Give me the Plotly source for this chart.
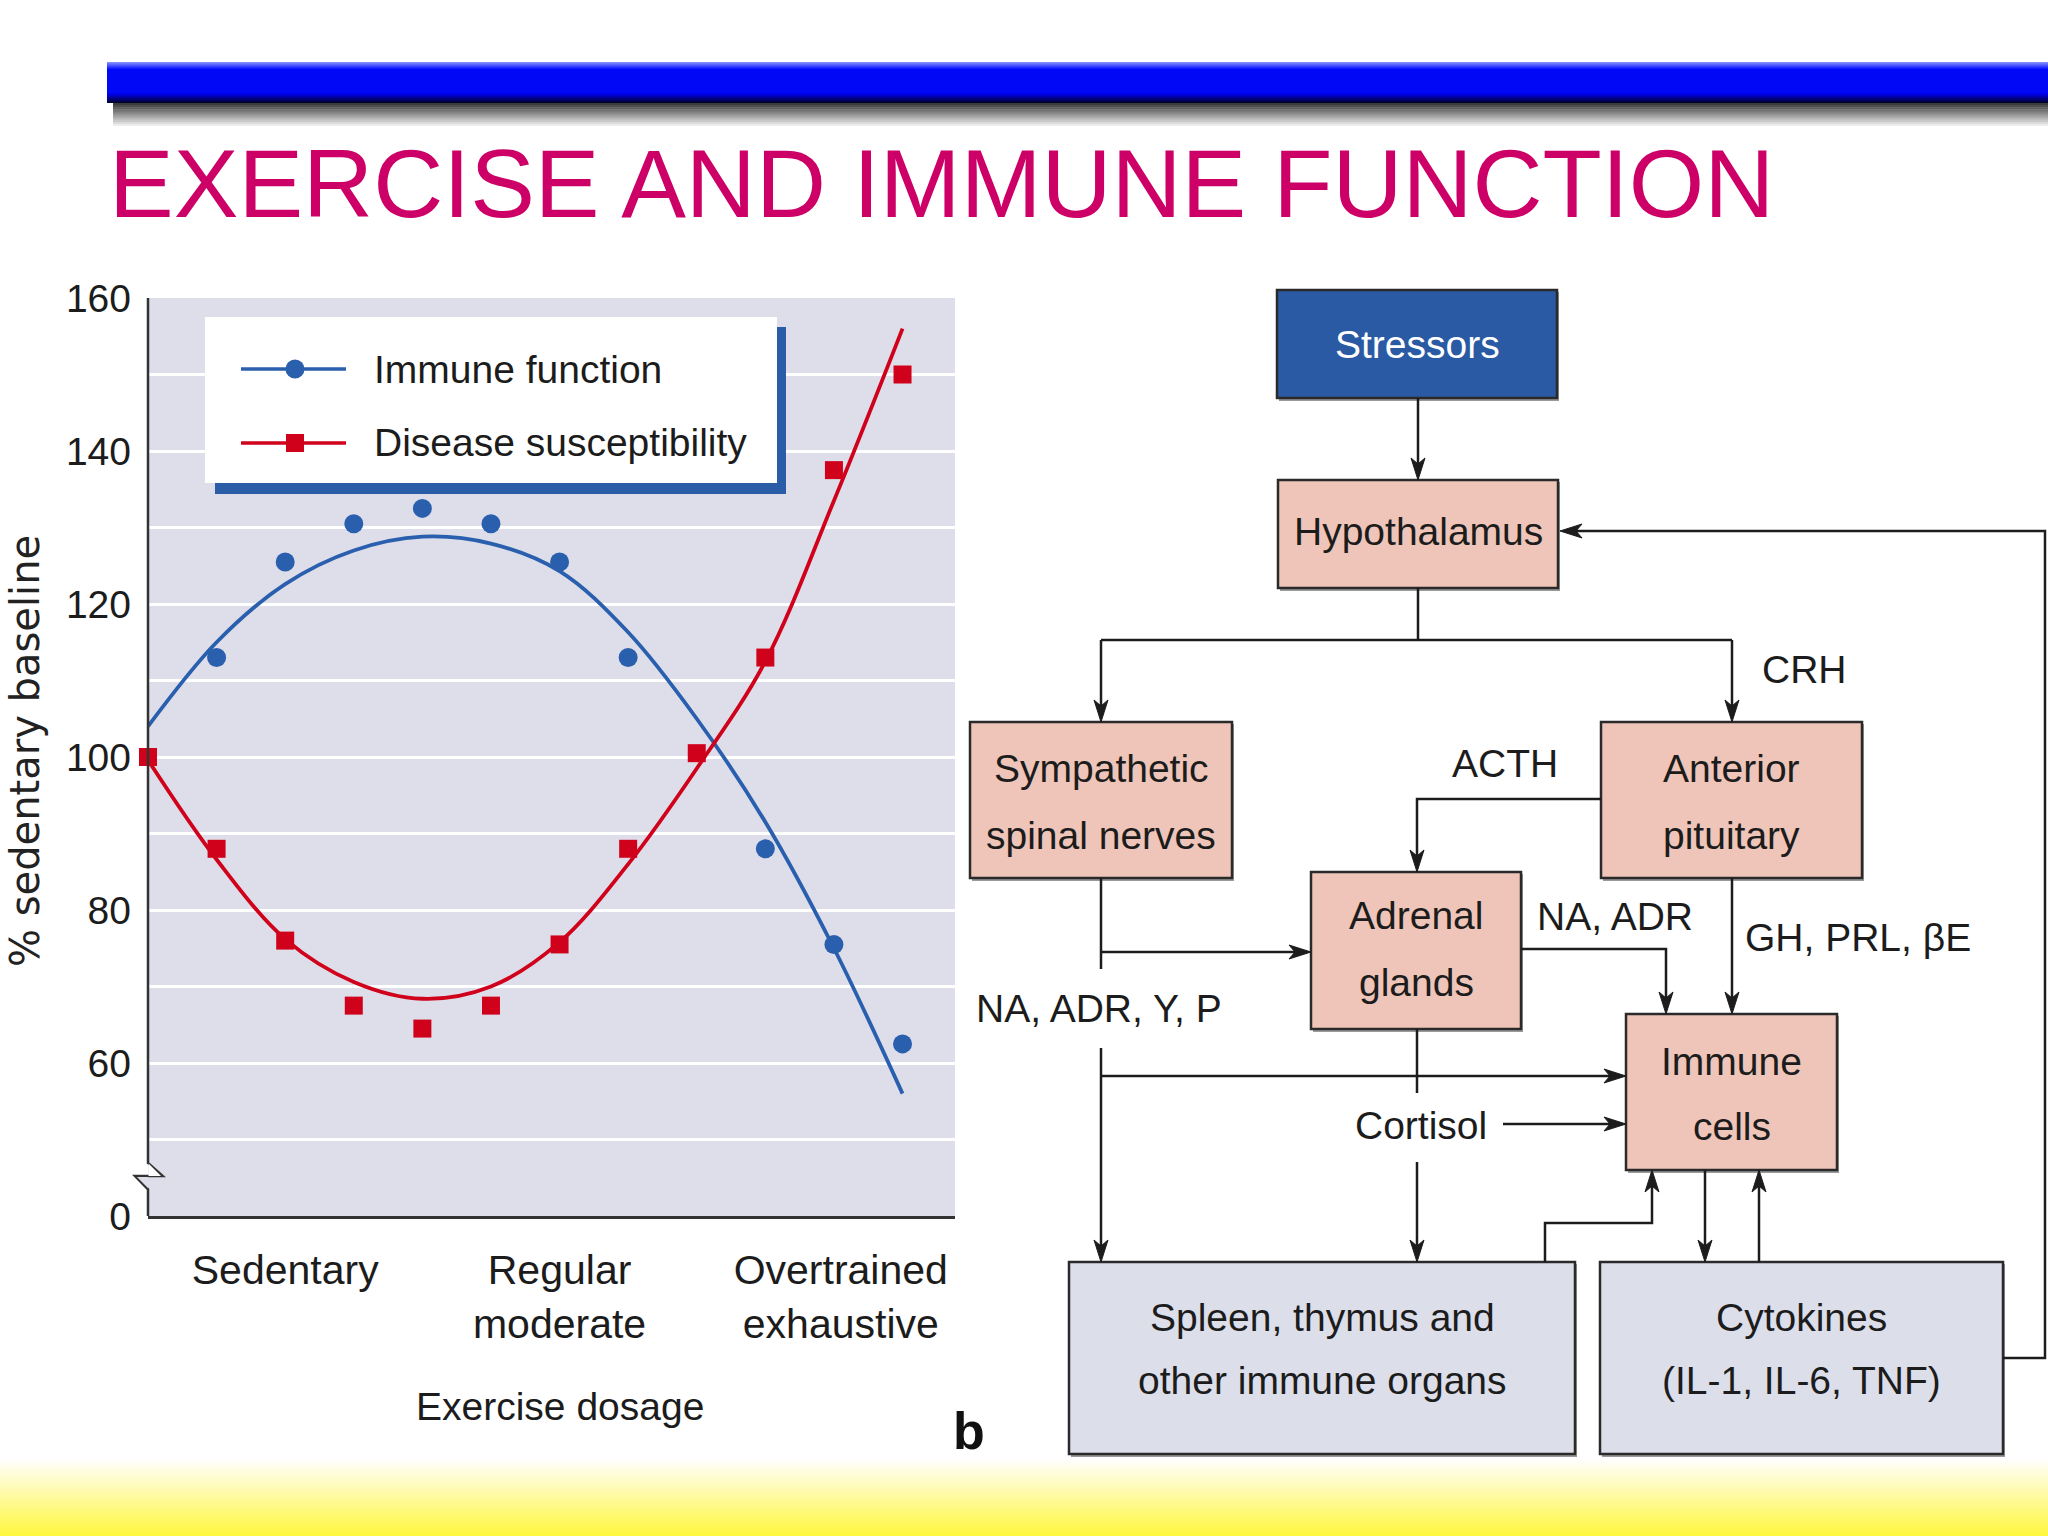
import plotly.graph_objects as go

W, H = 2048, 1536

# ---------------- data ----------------
immune_x = [1, 2, 3, 4, 5, 6, 7, 9, 10, 11]
immune_pct = [113, 125.5, 130.5, 132.5, 130.5, 125.5, 113, 88, 75.5, 62.5]
disease_x = [0, 1, 2, 3, 4, 5, 6, 7, 8, 9, 10, 11]
disease_pct = [100, 88, 76, 67.5, 64.5, 67.5, 75.5, 88, 100.5, 113, 137.5, 150]
fit_x = [0, 1, 2, 3, 4, 5, 6, 7, 8, 9, 10, 11]
immune_fit = [104, 115, 122.6, 127, 128.8, 127.9, 124.3, 116.3, 105, 91.5, 75, 56]
disease_fit = [99.6, 86.6, 76.2, 70.6, 68.4, 70.0, 75.8, 86.0, 98.5, 112.5, 133.5, 156]
x_tick_pos = [2, 6, 10.1]
x_tick_labels = ["Sedentary", "Regular<br>moderate", "Overtrained<br>exhaustive"]
y_tick_vals = [40, 50, 60, 70, 80, 90, 100, 110, 120, 130, 140, 150, 160]
y_tick_text = ["0", "", "60", "", "80", "", "100", "", "120", "", "140", "", "160"]
legend_labels = ["Immune function", "Disease susceptibility"]

node_labels = {
    "stress": ["Stressors"],
    "hypo": ["Hypothalamus"],
    "symp": ["Sympathetic", "spinal nerves"],
    "ant": ["Anterior", "pituitary"],
    "adr": ["Adrenal", "glands"],
    "imm": ["Immune", "cells"],
    "spleen": ["Spleen, thymus and", "other immune organs"],
    "cyto": ["Cytokines", "(IL-1, IL-6, TNF)"],
}
edge_labels = {
    "crh": "CRH", "acth": "ACTH", "naadr": "NA, ADR",
    "gh": "GH, PRL, βE", "nay": "NA, ADR, Y, P", "cort": "Cortisol",
}

# ---------------- styles ----------------
SANS = "Liberation Sans, Arial, sans-serif"
FS = 39
BLUE = "#2a5fae"
RED = "#d0021b"
LAV = "#dedeea"
SALMON = "#eec5b8"
GREYBOX = "#dcdeea"
INK = "#1c1c1c"

def px(x):
    return x / W

def py(y):
    return 1 - y / H

shapes = []
annos = []

def rect(x0, y0, x1, y1, fill, line=None, lw=0):
    shapes.append(dict(type="rect", xref="paper", yref="paper",
                       x0=px(x0), x1=px(x1), y0=py(y1), y1=py(y0),
                       fillcolor=fill, line=dict(color=line or fill, width=lw),
                       layer="above"))

def poly(points, color=INK, width=2.5, fill=None, close=False):
    d = "M" + " L".join(f"{px(a):.6f},{py(b):.6f}" for a, b in points)
    if close:
        d += " Z"
    s = dict(type="path", xref="paper", yref="paper", path=d,
             line=dict(color=color, width=width), layer="above")
    if fill:
        s["fillcolor"] = fill
    shapes.append(s)

def head(tip, direction, L=22, w=7, n=6):
    ux, uy = {"down": (0, 1), "up": (0, -1), "left": (-1, 0), "right": (1, 0)}[direction]
    pxv, pyv = -uy, ux
    tx, ty = tip
    bx, by = tx - ux * L, ty - uy * L
    nx, ny = tx - ux * (L - n), ty - uy * (L - n)
    poly([(tx, ty), (bx + pxv * w, by + pyv * w), (nx, ny), (bx - pxv * w, by - pyv * w)],
         color=INK, width=1, fill=INK, close=True)
    return (nx, ny)

def arrow(points, direction):
    tip = points[-1]
    notch = head(tip, direction)
    poly(points[:-1] + [notch])

def text(x, y, s, size=FS, color=INK, family=SANS, xanchor="center", angle=0, bold=False):
    annos.append(dict(xref="paper", yref="paper", x=px(x), y=py(y), text=s,
                      showarrow=False, xanchor=xanchor, yanchor="middle",
                      textangle=angle,
                      font=dict(size=size, color=color, family=family,
                                weight="bold" if bold else "normal")))

# ---------------- header decoration ----------------
steps = 12
for i in range(steps):
    t = i / (steps - 1)
    g = int(60 + (255 - 60) * t)
    rect(113, 103 + i * 2.1, W, 103 + (i + 1) * 2.1 + 0.5, f"rgb({g},{g},{g})")
rect(107, 62, W, 103, "#0008f6")
for i in range(8):
    t = i / 7
    r = int(128 - 128 * t); gg = int(140 - 132 * t)
    rect(107, 62 + i, W, 63 + i, f"rgb({r},{gg},255)")
for i in range(10):
    t = i / 9
    b = int(246 - 200 * t)
    rect(107, 93 + i, W, 94 + i, f"rgb(0,0,{b})")

text(107, 184, "EXERCISE AND IMMUNE FUNCTION", size=97, color="#cc0066", xanchor="left")

# bottom yellow gradient
n = 40
for i in range(n):
    t = i / (n - 1)
    g = int(255 - 8 * t); b = int(255 - 197 * t)
    rect(0, 1458 + i * 2, W, 1458 + (i + 1) * 2 + 0.6, f"rgb(255,{g},{b})")

# ---------------- chart ----------------
fig = go.Figure()
fig.add_trace(go.Scatter(x=fit_x, y=immune_fit, mode="lines", line=dict(color=BLUE, width=3.8, shape="spline"),
                         showlegend=False, hoverinfo="skip"))
fig.add_trace(go.Scatter(x=fit_x, y=disease_fit, mode="lines", line=dict(color=RED, width=3.8, shape="spline"),
                         showlegend=False, hoverinfo="skip"))
fig.add_trace(go.Scatter(x=immune_x, y=immune_pct, mode="markers", name=legend_labels[0],
                         marker=dict(symbol="circle", size=19, color=BLUE), cliponaxis=False, showlegend=False))
fig.add_trace(go.Scatter(x=disease_x, y=disease_pct, mode="markers", name=legend_labels[1],
                         marker=dict(symbol="square", size=18, color=RED), cliponaxis=False, showlegend=False))

# y axis line with break
poly([(148, 298), (148, 1163), (162.7, 1176), (135, 1176), (148, 1189.3), (148, 1216)], color="#333333", width=2.5)
poly([(148.5, 1163.5), (161, 1176), (148.5, 1176)], color="white", width=0, fill="white", close=True)
poly([(148, 1177), (137, 1177), (148, 1188)], color=LAV, width=0, fill=LAV, close=True)

# legend (custom)
rect(215, 327, 786, 494, "#2b5ca8")
rect(205, 317, 777, 483, "white")
poly([(241, 369), (346, 369)], color=BLUE, width=3.5)
shapes.append(dict(type="circle", xref="paper", yref="paper", x0=px(285.5), x1=px(304.5),
                   y0=py(378.5), y1=py(359.5), fillcolor=BLUE, line=dict(color=BLUE, width=0), layer="above"))
poly([(241, 443), (346, 443)], color=RED, width=3.5)
rect(286, 434, 304, 452, RED)
text(372, 369, legend_labels[0], xanchor="left")
text(372, 443, legend_labels[1], xanchor="left")

text(25, 751, "% sedentary baseline", size=40, family="DejaVu Sans, sans-serif", angle=-90, color="#222")
text(560, 1406, "Exercise dosage")
text(969, 1431, "b", size=52, bold=True, color="#111")

# ---------------- flowchart ----------------
boxes = {
    "stress": (1277, 290, 1557, 398, "#2a5aa3", "white"),
    "hypo": (1278, 480, 1558, 588, SALMON, INK),
    "symp": (970, 722, 1232, 878, SALMON, INK),
    "ant": (1601, 722, 1862, 878, SALMON, INK),
    "adr": (1311, 872, 1521, 1029, SALMON, INK),
    "imm": (1626, 1014, 1837, 1170, SALMON, INK),
    "spleen": (1069, 1262, 1575, 1454, GREYBOX, INK),
    "cyto": (1600, 1262, 2003, 1454, GREYBOX, INK),
}
line_rows = {
    "stress": [344], "hypo": [531], "symp": [768, 835], "ant": [768, 835],
    "adr": [915, 982], "imm": [1061, 1126], "spleen": [1317, 1380], "cyto": [1317, 1380],
}
for k, (x0, y0, x1, y1, fill, tc) in boxes.items():
    rect(x0 + 2, y0 + 2, x1 + 2, y1 + 3, "#9a9a9a")
    rect(x0, y0, x1, y1, fill, line="#2a2a2a", lw=2.5)
    for s, yy in zip(node_labels[k], line_rows[k]):
        text((x0 + x1) / 2, yy, s, color=tc)

label_pos = {
    "crh": (1804, 669), "acth": (1505, 764), "naadr": (1615, 916),
    "gh": (1858, 937), "nay": (1099, 1008), "cort": (1421, 1125),
}
for k, (x, y) in label_pos.items():
    text(x, y, edge_labels[k])

arrow([(1418, 398), (1418, 480)], "down")
poly([(1418, 588), (1418, 640)])
poly([(1101, 640), (1732, 640)])
arrow([(1101, 640), (1101, 722)], "down")
arrow([(1732, 640), (1732, 722)], "down")
arrow([(1601, 799), (1417, 799), (1417, 872)], "down")
poly([(1101, 878), (1101, 969)])
arrow([(1101, 1048), (1101, 1262)], "down")
arrow([(1101, 952), (1311, 952)], "right")
arrow([(1101, 1076), (1626, 1076)], "right")
arrow([(1521, 949), (1666, 949), (1666, 1014)], "down")
arrow([(1732, 878), (1732, 1014)], "down")
poly([(1417, 1029), (1417, 1093)])
arrow([(1417, 1162), (1417, 1262)], "down")
arrow([(1503, 1124), (1626, 1124)], "right")
arrow([(1545, 1262), (1545, 1223), (1652, 1223), (1652, 1170)], "up")
arrow([(1705, 1170), (1705, 1262)], "down")
arrow([(1759, 1262), (1759, 1170)], "up")
arrow([(2003, 1358), (2045, 1358), (2045, 531), (1560, 531)], "left")

fig.update_layout(
    width=W, height=H, margin=dict(l=0, r=0, t=0, b=0, autoexpand=False),
    paper_bgcolor="white", plot_bgcolor=LAV,
    shapes=shapes, annotations=annos, showlegend=False,
    xaxis=dict(domain=[px(148), px(955)], range=[0, 11.765], showgrid=False, zeroline=False,
               showline=True, linecolor="#333333", linewidth=3, automargin=False,
               tickvals=x_tick_pos, ticktext=x_tick_labels, ticks="",
               tickfont=dict(family=SANS, size=41, color=INK), ticklabelstandoff=16),
    yaxis=dict(domain=[py(1216), py(298)], range=[40, 160], showgrid=True, gridcolor="white", gridwidth=3,
               zeroline=False, showline=False, tickvals=y_tick_vals, ticktext=y_tick_text, ticks="",
               automargin=False,
               tickfont=dict(family=SANS, size=39, color=INK), ticklabelstandoff=16),
)

post = ("document.documentElement.style.margin='0';document.body.style.margin='0';"
        "document.body.style.padding='0';document.documentElement.style.overflow='hidden';"
        "var g=document.querySelector('.plotly-graph-div');"
        "g.style.position='absolute';g.style.left='0px';g.style.top='0px';")
fig.write_html("out.html", post_script=post, config={"displayModeBar": False})
